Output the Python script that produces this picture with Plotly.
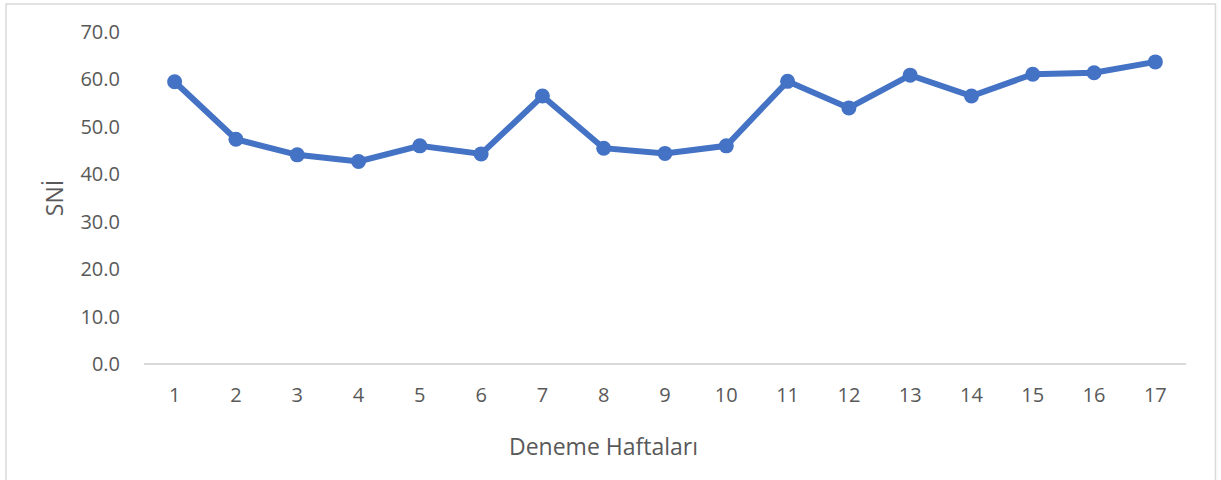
import plotly.graph_objects as go

weeks = [str(i) for i in range(1, 18)]
sni = [59.5, 47.4, 44.1, 42.7, 46.0, 44.3, 56.5, 45.5, 44.4, 46.0, 59.6, 54.0, 60.9, 56.5, 61.1, 61.4, 63.7]
y_ticks = [0, 10, 20, 30, 40, 50, 60, 70]

W, H = 1221, 480
L, R, T, B = 144, 35, 31.5, 116
pw, ph = W - L - R, H - T - B

fig = go.Figure()
fig.add_trace(go.Scatter(
    x=weeks, y=sni, mode="lines+markers",
    line=dict(color="#4472C4", width=6),
    marker=dict(color="#4472C4", size=15),
    showlegend=False,
))

fam = "Open Sans, Liberation Sans, sans-serif"
tick_font = dict(family=fam, size=20, color="#595959")
title_font = dict(family=fam, size=23, color="#595959")
xtitle_font = dict(family=fam, size=23, color="#595959")


def px_x(p):
    return (p - L) / pw


def px_y(p):
    return (H - B - p) / ph


# outer chart border (left, top, right)
fig.add_shape(type="path", xref="paper", yref="paper",
              path=f"M {px_x(6)} {px_y(482)} L {px_x(6)} {px_y(3.5)} L {px_x(1215.5)} {px_y(3.5)} L {px_x(1215.5)} {px_y(482)}",
              line=dict(color="#D9D9D9", width=1.5))

# x-axis title (placed as in the reference, left of plot centre)
fig.add_annotation(text="Deneme Haftaları", xref="paper", yref="paper",
                   x=px_x(603), y=px_y(446), xanchor="center", yanchor="middle",
                   showarrow=False, font=xtitle_font)

fig.update_layout(
    width=W, height=H,
    margin=dict(l=L, r=R, t=T, b=B),
    paper_bgcolor="white", plot_bgcolor="white",
    font=tick_font,
    xaxis=dict(
        type="category", range=[-0.5, 16.5],
        showgrid=False, showline=False, zeroline=False,
        ticks="", tickfont=tick_font, ticklabelstandoff=17,
    ),
    yaxis=dict(
        range=[0, 70], tickvals=y_ticks, tickformat=".1f",
        showgrid=False, zeroline=True, zerolinecolor="#D9D9D9", zerolinewidth=1.5,
        showline=False, ticks="",
        tickfont=tick_font, ticklabelstandoff=23,
        title=dict(text="SNİ", font=title_font, standoff=10),
    ),
)

fig.write_html("out.html", config={"displayModeBar": False},
               post_script="document.body.style.margin='0';")
